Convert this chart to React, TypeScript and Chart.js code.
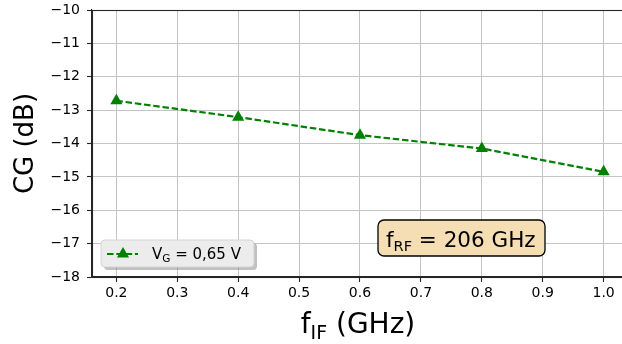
import React, { useEffect, useRef } from "react";
import { Chart, registerables } from "chart.js";

Chart.register(...registerables);

const freqGHz = [0.2, 0.4, 0.6, 0.8, 1.0];
const convGain = [-12.72, -13.21, -13.75, -14.15, -14.85];
const xTicks = [0.2, 0.3, 0.4, 0.5, 0.6, 0.7, 0.8, 0.9, 1.0];
const yTicks = [-18, -17, -16, -15, -14, -13, -12, -11, -10];
const seriesName = { main: "V", sub: "G", rest: " = 0,65 V" };
const boxText = { main: "f", sub: "RF", rest: " = 206 GHz" };
const xTitle = { main: "f", sub: "IF", rest: " (GHz)" };
const yTitle = "CG (dB)";

const FONT = "'DejaVu Sans', sans-serif";
const GREEN = "#008000";
const SPINE = "#262626";

function drawSub(
  ctx: CanvasRenderingContext2D,
  parts: { main: string; sub: string; rest: string },
  x: number,
  y: number,
  size: number,
  subSize: number,
  subDrop: number,
  align: "left" | "center"
) {
  ctx.save();
  ctx.textBaseline = "alphabetic";
  ctx.textAlign = "left";
  ctx.font = `${size}px ${FONT}`;
  const w1 = ctx.measureText(parts.main).width;
  const w3 = ctx.measureText(parts.rest).width;
  ctx.font = `${subSize}px ${FONT}`;
  const w2 = ctx.measureText(parts.sub).width;
  const total = w1 + w2 + w3;
  let sx = align === "center" ? x - total / 2 : x;
  ctx.font = `${size}px ${FONT}`;
  ctx.fillText(parts.main, sx, y);
  sx += w1;
  ctx.font = `${subSize}px ${FONT}`;
  ctx.fillText(parts.sub, sx, y + subDrop);
  sx += w2;
  ctx.font = `${size}px ${FONT}`;
  ctx.fillText(parts.rest, sx, y);
  ctx.restore();
}

function triangle(ctx: CanvasRenderingContext2D, x: number, y: number, r: number) {
  ctx.beginPath();
  ctx.moveTo(x, y - r);
  ctx.lineTo(x + r * 0.866, y + r * 0.5);
  ctx.lineTo(x - r * 0.866, y + r * 0.5);
  ctx.closePath();
  ctx.fill();
}

const decorPlugin = {
  id: "decor",
  afterDraw(chart: any) {
    const ctx: CanvasRenderingContext2D = chart.ctx;
    const a = chart.chartArea;
    ctx.save();
    // frame
    ctx.strokeStyle = SPINE;
    ctx.lineWidth = 1.1;
    ctx.strokeRect(a.left + 0.5, a.top + 0.5, a.right - a.left, a.bottom - a.top);

    ctx.fillStyle = "#000";
    // x title
    drawSub(ctx, xTitle, (a.left + a.right) / 2 - 2, 333, 28, 19, 6, "center");
    // y title
    ctx.save();
    ctx.translate(33, (a.top + a.bottom) / 2);
    ctx.rotate(-Math.PI / 2);
    ctx.font = `26px ${FONT}`;
    ctx.textAlign = "center";
    ctx.textBaseline = "alphabetic";
    ctx.fillText(yTitle, 0, 0);
    ctx.restore();

    // legend
    const lx = a.left + 9, ly = a.bottom - 37, lw = 153, lh = 27;
    ctx.fillStyle = "rgba(140,140,140,0.55)";
    ctx.beginPath();
    ctx.roundRect(lx + 3, ly + 3, lw, lh, 4);
    ctx.fill();
    ctx.fillStyle = "#ececec";
    ctx.strokeStyle = "#d4d4d4";
    ctx.lineWidth = 1;
    ctx.beginPath();
    ctx.roundRect(lx, ly, lw, lh, 4);
    ctx.fill();
    ctx.stroke();
    const cy = ly + 14;
    ctx.strokeStyle = GREEN;
    ctx.lineWidth = 2.2;
    ctx.setLineDash([6.5, 2.8]);
    ctx.beginPath();
    ctx.moveTo(lx + 6, cy);
    ctx.lineTo(lx + 37, cy);
    ctx.stroke();
    ctx.setLineDash([]);
    ctx.fillStyle = GREEN;
    triangle(ctx, lx + 22, cy, 7);
    ctx.fillStyle = "#000";
    drawSub(ctx, seriesName, lx + 51, cy + 5, 15, 10.5, 3, "left");

    // annotation box
    const bx = 378, by = 220, bw = 167, bh = 36;
    ctx.fillStyle = "#f5deb3";
    ctx.strokeStyle = "#000";
    ctx.lineWidth = 1.3;
    ctx.beginPath();
    ctx.roundRect(bx, by, bw, bh, 6);
    ctx.fill();
    ctx.stroke();
    ctx.fillStyle = "#000";
    drawSub(ctx, boxText, bx + 8, by + 27, 21.5, 14.5, 4, "left");
    ctx.restore();
  },
};

export default function App() {
  const ref = useRef<HTMLCanvasElement | null>(null);
  useEffect(() => {
    if (!ref.current) return;
    const chart = new Chart(ref.current, {
      type: "line",
      data: {
        datasets: [
          {
            label: "VG = 0,65 V",
            data: freqGHz.map((x, i) => ({ x, y: convGain[i] })),
            borderColor: GREEN,
            backgroundColor: GREEN,
            borderWidth: 2.2,
            borderDash: [6.5, 2.8],
            pointStyle: "triangle",
            pointRadius: 7,
            pointBorderWidth: 0,
            pointBackgroundColor: GREEN,
            fill: false,
            tension: 0,
          },
        ],
      },
      options: {
        responsive: false,
        animation: false,
        devicePixelRatio: 1,
        layout: { padding: { left: 0, top: 10, right: 12, bottom: 0 } },
        plugins: { legend: { display: false }, tooltip: { enabled: false } },
        scales: {
          x: {
            type: "linear",
            min: 0.16,
            max: 1.04,
            afterBuildTicks: (s: any) => {
              s.ticks = xTicks.map((v) => ({ value: v }));
            },
            afterFit: (s: any) => {
              s.height = 67;
              s.paddingLeft = 0;
              s.paddingRight = 0;
            },
            ticks: {
              font: { family: FONT, size: 14 },
              color: "#000",
              padding: 3,
              maxRotation: 0,
              autoSkip: false,
              callback: (v: any) => Number(v).toFixed(1),
            },
            grid: {
              color: "#c4c4c4",
              lineWidth: 1,
              tickColor: SPINE,
              tickLength: 5,
              tickWidth: 1.1,
            },
            border: { display: true, color: SPINE, width: 1.1 },
          },
          y: {
            type: "linear",
            min: -18,
            max: -10,
            afterBuildTicks: (s: any) => {
              s.ticks = yTicks.map((v) => ({ value: v }));
            },
            afterFit: (s: any) => {
              s.width = 92;
              s.paddingTop = 0;
              s.paddingBottom = 0;
            },
            ticks: {
              font: { family: FONT, size: 14 },
              color: "#000",
              padding: 7,
              autoSkip: false,
              callback: (v: any) => {
                const n = Number(v);
                return n < 0 ? "\u2212" + Math.abs(n) : String(n);
              },
            },
            grid: {
              color: "#c4c4c4",
              lineWidth: 1,
              tickColor: SPINE,
              tickLength: 5,
              tickWidth: 1.1,
            },
            border: { display: true, color: SPINE, width: 1.1 },
          },
        },
      },
      plugins: [decorPlugin],
    } as any);
    return () => chart.destroy();
  }, []);
  return (
    <div
      style={{
        position: "fixed",
        left: 0,
        top: 0,
        width: 622,
        height: 344,
        overflow: "hidden",
        background: "#fff",
      }}
    >
      <canvas ref={ref} width={640} height={344} style={{ width: 640, height: 344, display: "block" }} />
    </div>
  );
}
